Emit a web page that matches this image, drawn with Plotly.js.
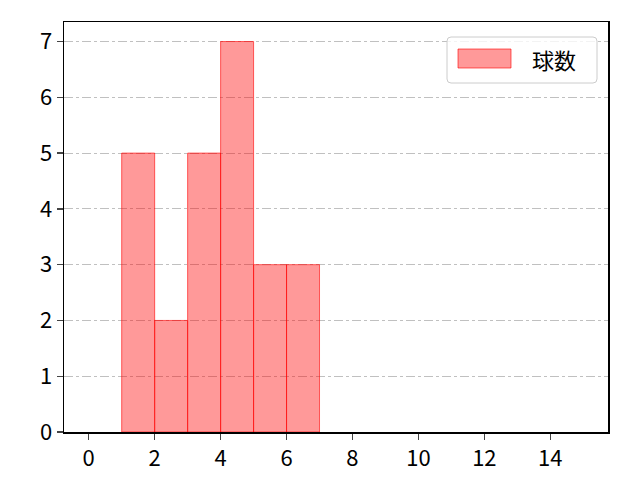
<!DOCTYPE html>
<html>
<head>
<meta charset="utf-8">
<script src="https://cdn.plot.ly/plotly-3.0.1.min.js"></script>
<style>
  html, body { margin: 0; padding: 0; background: #fff; }
  #plot { width: 640px; height: 480px; }
</style>
</head>
<body>
<div id="plot"></div>
<script>
// histogram bins (left edges) and counts
const binStarts = [1, 2, 3, 4, 5, 6];
const binWidth = 1;
const counts = [5, 2, 5, 7, 3, 3];
const seriesName = '球数';
const xTicks = [0, 2, 4, 6, 8, 10, 12, 14];
const yTicks = [0, 1, 2, 3, 4, 5, 6, 7];

const font = '"Noto Sans CJK JP", "Noto Sans", sans-serif';
const fillColor = 'rgba(255,0,0,0.4)';
const edgeColor = 'rgba(255,0,0,0.6)';

// plot area in pixels, used to place the hand-drawn legend
const M = { l: 64, r: 32, t: 22, b: 48 };
const W = 640, H = 480;
const pw = W - M.l - M.r, ph = H - M.t - M.b;
const px = (x) => (x - M.l) / pw;
const py = (y) => (H - M.b - y) / ph;

function roundRect(x0, y0, x1, y1, r) {
  const a = px(x0), b = px(x1), c = py(y0), d = py(y1);
  const rx = r / pw, ry = r / ph;
  return `M${a + rx},${c} L${b - rx},${c} Q${b},${c} ${b},${c - ry} ` +
    `L${b},${d + ry} Q${b},${d} ${b - rx},${d} L${a + rx},${d} ` +
    `Q${a},${d} ${a},${d + ry} L${a},${c - ry} Q${a},${c} ${a + rx},${c} Z`;
}

const data = [{
  type: 'bar',
  name: seriesName,
  x: binStarts,
  y: counts,
  width: binStarts.map(() => binWidth),
  offset: 0,
  marker: { color: fillColor, line: { color: edgeColor, width: 1 } },
  showlegend: false
}];

const layout = {
  width: W,
  height: H,
  paper_bgcolor: '#fff',
  plot_bgcolor: '#fff',
  margin: M,
  bargap: 0,
  font: { family: font, size: 22, color: '#000' },
  xaxis: {
    range: [-0.75, 15.75],
    tickvals: xTicks,
    ticktext: xTicks.map(String),
    ticks: 'outside',
    ticklen: 6,
    tickwidth: 1.3,
    showgrid: false,
    zeroline: false,
    showline: true,
    linecolor: '#000',
    linewidth: 1.5,
    mirror: true
  },
  yaxis: {
    range: [0, 7.35],
    tickvals: yTicks,
    ticktext: yTicks.map(String),
    ticks: 'outside',
    ticklen: 6,
    tickwidth: 1.3,
    showgrid: true,
    gridcolor: '#b0b0b0',
    gridwidth: 0.8,
    griddash: 'dashdot',
    zeroline: false,
    showline: true,
    linecolor: '#000',
    linewidth: 1.5,
    mirror: true
  },
  shapes: [
    {
      type: 'path', xref: 'paper', yref: 'paper',
      path: roundRect(447, 37, 597, 83, 4),
      fillcolor: 'rgba(255,255,255,0.8)',
      line: { color: '#cccccc', width: 1 }
    },
    {
      type: 'rect', xref: 'paper', yref: 'paper',
      x0: px(458), x1: px(511), y0: py(68), y1: py(49),
      fillcolor: fillColor,
      line: { color: edgeColor, width: 1 }
    }
  ],
  annotations: [{
    xref: 'paper', yref: 'paper',
    x: px(530), y: py(59),
    xanchor: 'left', yanchor: 'middle',
    text: seriesName,
    showarrow: false,
    font: { family: font, size: 22, color: '#000' }
  }]
};

Plotly.newPlot('plot', data, layout, { displayModeBar: false, staticPlot: true });
</script>
</body>
</html>
